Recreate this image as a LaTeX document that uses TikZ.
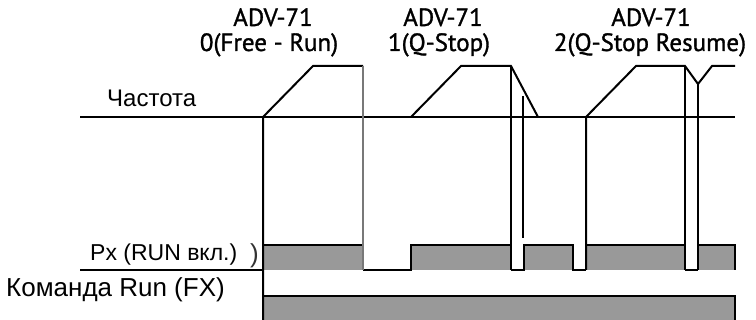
\documentclass[tikz,border=0pt]{standalone}
\usepackage{fontspec}
\setmainfont{Liberation Sans}
\newfontfamily\headfont[FakeBold=1.2]{PT Sans}
\definecolor{pulsefill}{RGB}{153,153,153}
\definecolor{edgegray}{RGB}{120,120,120}
\begin{document}
\begin{tikzpicture}[x=1pt,y=-1pt,
  sig/.style={line width=2pt,black},
  gsig/.style={line width=2.4pt,edgegray},
  pulse/.style={fill=pulsefill,draw=none},
  head/.style={font=\headfont\fontsize{25}{22}\selectfont,inner sep=0pt,anchor=base},
  lbl/.style={font=\fontsize{23}{26}\selectfont,inner sep=0pt,anchor=base west}]
\useasboundingbox (0,0) rectangle (756,320);
% headers
\node[head] (h0a) at (273,26) {ADV-71};
\node[head] (h0b) at (269,51) {0(Free - Run)};
\node[head] (h1a) at (443,26) {ADV-71};
\node[head] (h1b) at (439,51) {1(Q-Stop)};
\node[head] (h2a) at (651,26) {ADV-71};
\node[head] (h2b) at (650,51) {2(Q-Stop Resume)};
% labels
\node[lbl,font=\fontsize{24}{26}\selectfont] (lf) at (107,107) {Частота};
\node[lbl] (lpx) at (90,261) {Px (RUN вкл.)};
\node[lbl,font=\fontsize{26}{28}\selectfont] (lfx) at (6,297) {Команда Run (FX)};
\node[lbl,font=\fontsize{26}{28}\selectfont,text=black!80] (lstray) at (250,263) {)};
% Run FX
\fill[pulsefill] (263,296) rectangle (735,320);
\draw[sig] (263,320) -- (263,296) -- (735,296) -- (735,320);
% Px pulses
\fill[pulse] (263,245) rectangle (363,270);
\fill[pulse] (411,245) rectangle (511,270);
\fill[pulse] (524,245) rectangle (573,270);
\fill[pulse] (586,245) rectangle (685,270);
\fill[pulse] (698,245) rectangle (735,270);
\draw[sig] (80,270) -- (263,270);
\draw[sig] (263,245) -- (363,245);
\draw[sig] (363,270) -- (411,270) -- (411,245) -- (511,245);
\draw[sig] (511,270) -- (524,270) -- (524,245) -- (573,245) -- (573,270) -- (586,270);
\draw[sig] (586,245) -- (685,245);
\draw[sig] (685,270) -- (698,270);
\draw[sig] (698,245) -- (735,245) -- (735,270);
% frequency
\draw[sig] (80,117) -- (735,117);
\draw[sig] (263,320) -- (263,117) -- (313,66) -- (363,66);
\draw[gsig] (363,66) -- (363,270);
\draw[sig] (411,117) -- (461,66) -- (511,66) -- (538,117);
\draw[sig] (511,66) -- (511,270);
\draw[sig] (523,96) -- (523,238);
\draw[sig] (586,270) -- (586,117) -- (636,66) -- (685,66) -- (698,84) -- (712,66) -- (735,66);
\draw[sig] (685,66) -- (685,270);
\draw[sig] (698,84) -- (698,270);
\end{tikzpicture}
\end{document}
